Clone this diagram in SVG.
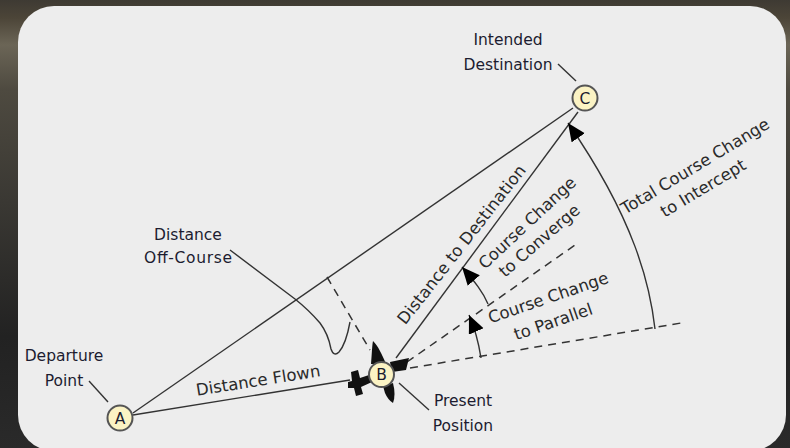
<svg xmlns="http://www.w3.org/2000/svg" width="790" height="448" viewBox="0 0 790 448">
<defs>
<linearGradient id="bg" x1="0" y1="0" x2="0" y2="1">
<stop offset="0" stop-color="#3e3a33"/><stop offset="0.04" stop-color="#4c4538"/><stop offset="0.1" stop-color="#6b6556"/><stop offset="0.2" stop-color="#4e4a40"/><stop offset="0.45" stop-color="#3a3833"/><stop offset="0.75" stop-color="#222222"/><stop offset="1" stop-color="#2a2a2a"/>
</linearGradient>
<marker id="arr" markerWidth="20" markerHeight="18" refX="18" refY="8" orient="auto" markerUnits="userSpaceOnUse"><path d="M0,0 L18,8 L0,16 Z" fill="#000"/></marker>
</defs>
<style>
text{font-family:"DejaVu Sans",sans-serif;font-size:16.5px;fill:#2a2a2a;text-anchor:middle}
.n{font-size:15.5px;fill:#1c1c30}
.l{fill:none;stroke:#333;stroke-width:1.4}
.d{fill:none;stroke:#333;stroke-width:1.5;stroke-dasharray:8 6}
.c{fill:#fbf3c4;stroke:#555;stroke-width:2}
</style>
<rect width="790" height="448" fill="url(#bg)"/>
<rect x="18" y="6" width="768" height="445" rx="36" fill="#ededed"/>
<g id="connectors">
<path class="l" d="M133,413 L573,108"/>
<path class="l" d="M133,415 L350,380"/>
<path class="l" d="M396,358 L578,112"/>
<path class="d" d="M410,368 L681,323"/>
<path class="d" d="M407,362 L578,243"/>
<path class="d" d="M327,277 L370,350"/>
<path class="l" d="M230,250 L295,299 C305,307 314,316 320,323 C326,331 329,338 331,349 C333,355 336,355 339,352 C345,345 348,333 350,322"/>
<path class="l" d="M89,381 L108,402"/>
<path class="l" d="M558,64 L576,81"/>
<path class="l" d="M399,383 L429,410"/>
<path class="l" marker-end="url(#arr)" d="M481,358 C479,345 476,331 469,315"/>
<path class="l" marker-end="url(#arr)" d="M488,304 C483,292 475,282 462,267"/>
<path class="l" marker-end="url(#arr)" d="M655,329 C650,285 635,220 568,123"/>
</g>
<g id="plane">
<path fill="#111" d="M351,372 L358,370 L360,378 L372,374 L372,382 L361,387 L363,394 L356,396 L354,388 L348,388 L348,382 L352,381 Z"/>
<path fill="#111" d="M371,364 C372,353 372,346 373,341 C378,346 382,354 386,364 Z"/>
<path fill="#111" d="M383,386 L385,393 Q388,400 393,403 Q396,395 393,383 Z"/>
<path fill="#111" d="M390,362 L409,358 L406,370 L392,372 Z"/>
</g>
<g id="node-a"><circle class="c" cx="120" cy="418" r="12.5"/><text x="120" y="424" class="n">A</text></g>
<g id="node-b"><circle class="c" cx="381.500" cy="374.500" r="12.5"/><text x="381.500" y="380" class="n">B</text></g>
<g id="node-c"><circle class="c" cx="585" cy="98" r="12.5"/><text x="585" y="104" class="n">C</text></g>
<g id="labels">
<text class="n" x="64" y="361">Departure</text><text class="n" x="64" y="386">Point</text>
<text class="n" x="508" y="45">Intended</text><text class="n" x="508" y="70">Destination</text>
<text class="n" x="188" y="240">Distance</text><text class="n" x="188" y="263" textLength="88" lengthAdjust="spacing">Off-Course</text>
<text class="n" x="463" y="406">Present</text><text class="n" x="463" y="431">Position</text>
<text x="259" y="386" transform="rotate(-9 259 386)">Distance Flown</text>
<text x="466" y="248" transform="rotate(-52 466 248)" textLength="197" lengthAdjust="spacing">Distance to Destination</text>
<text x="531" y="227" transform="rotate(-43 531 227)">Course Change</text>
<text x="543" y="245" transform="rotate(-41 543 245)">to Converge</text>
<text x="550" y="303" transform="rotate(-19 550 303)">Course Change</text>
<text x="555" y="327" transform="rotate(-19 555 327)">to Parallel</text>
<text x="698" y="171" transform="rotate(-31 698 171)">Total Course Change</text>
<text x="706" y="193" transform="rotate(-31 706 193)">to Intercept</text>
</g>
</svg>
